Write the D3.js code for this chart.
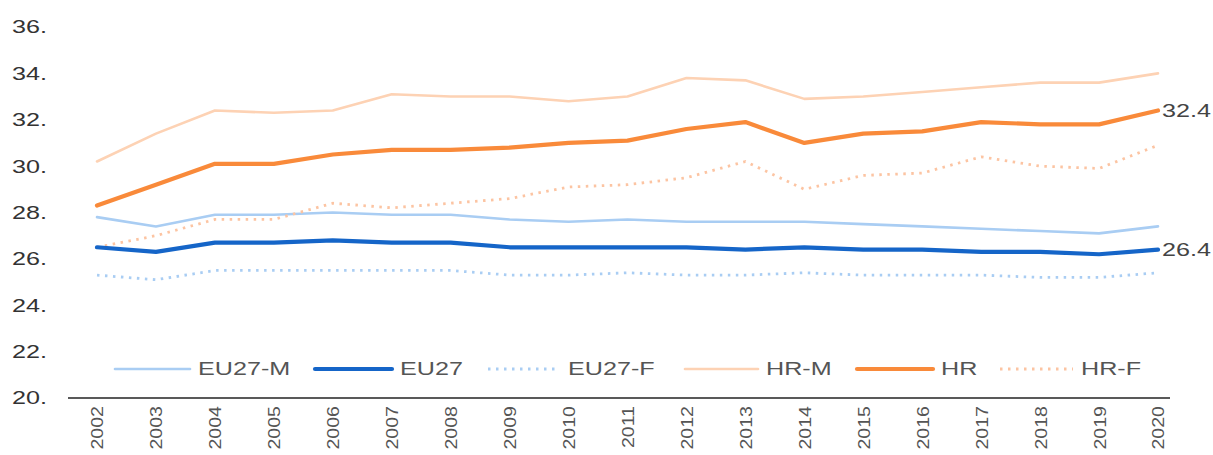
<!DOCTYPE html>
<html>
<head>
<meta charset="utf-8">
<script src="https://cdn.jsdelivr.net/npm/d3@7"></script>
<style>
  html, body { margin: 0; padding: 0; background: #fff; }
  svg { display: block; font-family: "Liberation Sans", Arial, sans-serif; }
</style>
</head>
<body>
<svg id="chart" width="1213" height="455"></svg>
<script>
// Years on the horizontal axis
const years = [2002, 2003, 2004, 2005, 2006, 2007, 2008, 2009, 2010, 2011,
               2012, 2013, 2014, 2015, 2016, 2017, 2018, 2019, 2020];

// Series values
const eu27M = [27.8, 27.4, 27.9, 27.9, 28.0, 27.9, 27.9, 27.7, 27.6, 27.7,
               27.6, 27.6, 27.6, 27.5, 27.4, 27.3, 27.2, 27.1, 27.4];
const eu27  = [26.5, 26.3, 26.7, 26.7, 26.8, 26.7, 26.7, 26.5, 26.5, 26.5,
               26.5, 26.4, 26.5, 26.4, 26.4, 26.3, 26.3, 26.2, 26.4];
const eu27F = [25.3, 25.1, 25.5, 25.5, 25.5, 25.5, 25.5, 25.3, 25.3, 25.4,
               25.3, 25.3, 25.4, 25.3, 25.3, 25.3, 25.2, 25.2, 25.4];
const hrM   = [30.2, 31.4, 32.4, 32.3, 32.4, 33.1, 33.0, 33.0, 32.8, 33.0,
               33.8, 33.7, 32.9, 33.0, 33.2, 33.4, 33.6, 33.6, 34.0];
const hr    = [28.3, 29.2, 30.1, 30.1, 30.5, 30.7, 30.7, 30.8, 31.0, 31.1,
               31.6, 31.9, 31.0, 31.4, 31.5, 31.9, 31.8, 31.8, 32.4];
const hrF   = [26.5, 27.0, 27.7, 27.7, 28.4, 28.2, 28.4, 28.6, 29.1, 29.2,
               29.5, 30.2, 29.0, 29.6, 29.7, 30.4, 30.0, 29.9, 30.9];

// Y axis ticks
const yTicks = [20, 22, 24, 26, 28, 30, 32, 34, 36];

const seriesNames = ["EU27-M", "EU27", "EU27-F", "HR-M", "HR", "HR-F"];
const seriesValues = [eu27M, eu27, eu27F, hrM, hr, hrF];

// Styles per series
const styles = {
  "EU27-M": { color: "#a9cdf3", width: 2.6, dash: null },
  "EU27":   { color: "#1565c8", width: 4.2, dash: null },
  "EU27-F": { color: "#a9cdf3", width: 2.8, dash: "2.5,5.5" },
  "HR-M":   { color: "#fdd2b4", width: 2.6, dash: null },
  "HR":     { color: "#f98a3a", width: 4.2, dash: null },
  "HR-F":   { color: "#fcc4a2", width: 2.8, dash: "2.5,5.5" }
};

// Text is set wide along its baseline
const WIDE = 1.4;

const svg = d3.select("#chart");

const x = d3.scalePoint().domain(years).range([97, 1158]);
const y = d3.scaleLinear().domain([20, 36]).range([398, 27]);

// Y tick labels (no axis line)
svg.append("g")
  .selectAll("text")
  .data(yTicks)
  .join("text")
  .attr("transform", d => `translate(12,${y(d)}) scale(${WIDE},1)`)
  .attr("dy", "0.36em")
  .attr("font-size", 18)
  .attr("fill", "#333")
  .text(d => d + ".");

// X axis
const xAxis = svg.append("g")
  .attr("transform", "translate(0,398)")
  .call(d3.axisBottom(x).tickSize(0).tickPadding(8));
xAxis.select(".domain")
  .attr("d", "M68,0H1170")
  .attr("stroke", "#222")
  .attr("stroke-width", 1.6);
xAxis.selectAll("text")
  .attr("font-size", 17)
  .attr("font-family", "Liberation Sans, Arial, sans-serif")
  .attr("fill", "#555")
  .attr("transform", "rotate(-90) scale(1.15,1)")
  .attr("text-anchor", "end")
  .attr("x", -7)
  .attr("y", 0)
  .attr("dy", "0.35em");

// Lines
const line = d3.line()
  .x((d, i) => x(years[i]))
  .y(d => y(d));

const drawOrder = ["EU27-F", "EU27-M", "HR-F", "HR-M", "EU27", "HR"];
drawOrder.forEach(name => {
  const vals = seriesValues[seriesNames.indexOf(name)];
  const s = styles[name];
  svg.append("path")
    .datum(vals)
    .attr("d", line)
    .attr("fill", "none")
    .attr("stroke", s.color)
    .attr("stroke-width", s.width)
    .attr("stroke-linejoin", "round")
    .attr("stroke-linecap", s.dash ? "butt" : "round")
    .attr("stroke-dasharray", s.dash);
});

// End value labels
const endLabels = [
  { series: hr, text: hr[hr.length - 1].toFixed(1) },
  { series: eu27, text: eu27[eu27.length - 1].toFixed(1) }
];
svg.append("g")
  .selectAll("text")
  .data(endLabels)
  .join("text")
  .attr("transform", d =>
    `translate(${x(years[years.length - 1]) + 4},${y(d.series[d.series.length - 1])}) scale(${WIDE},1)`)
  .attr("dy", "0.36em")
  .attr("font-size", 18)
  .attr("fill", "#444")
  .text(d => d.text);

// Legend
const legendItems = [
  { name: "EU27-M", x0: 115, x1: 190 },
  { name: "EU27",   x0: 315, x1: 392 },
  { name: "EU27-F", x0: 488, x1: 560 },
  { name: "HR-M",   x0: 685, x1: 758 },
  { name: "HR",     x0: 857, x1: 933 },
  { name: "HR-F",   x0: 1000, x1: 1073 }
];
const legendY = 369;
const lg = svg.append("g");
legendItems.forEach(it => {
  const s = styles[it.name];
  lg.append("line")
    .attr("x1", it.x0).attr("x2", it.x1)
    .attr("y1", legendY).attr("y2", legendY)
    .attr("stroke", s.color)
    .attr("stroke-width", s.width)
    .attr("stroke-linecap", s.dash ? "butt" : "round")
    .attr("stroke-dasharray", s.dash);
  lg.append("text")
    .attr("transform", `translate(${it.x1 + 8},${legendY}) scale(${WIDE},1)`)
    .attr("dy", "0.36em")
    .attr("font-size", 18)
    .attr("fill", "#555")
    .text(it.name);
});
</script>
</body>
</html>
